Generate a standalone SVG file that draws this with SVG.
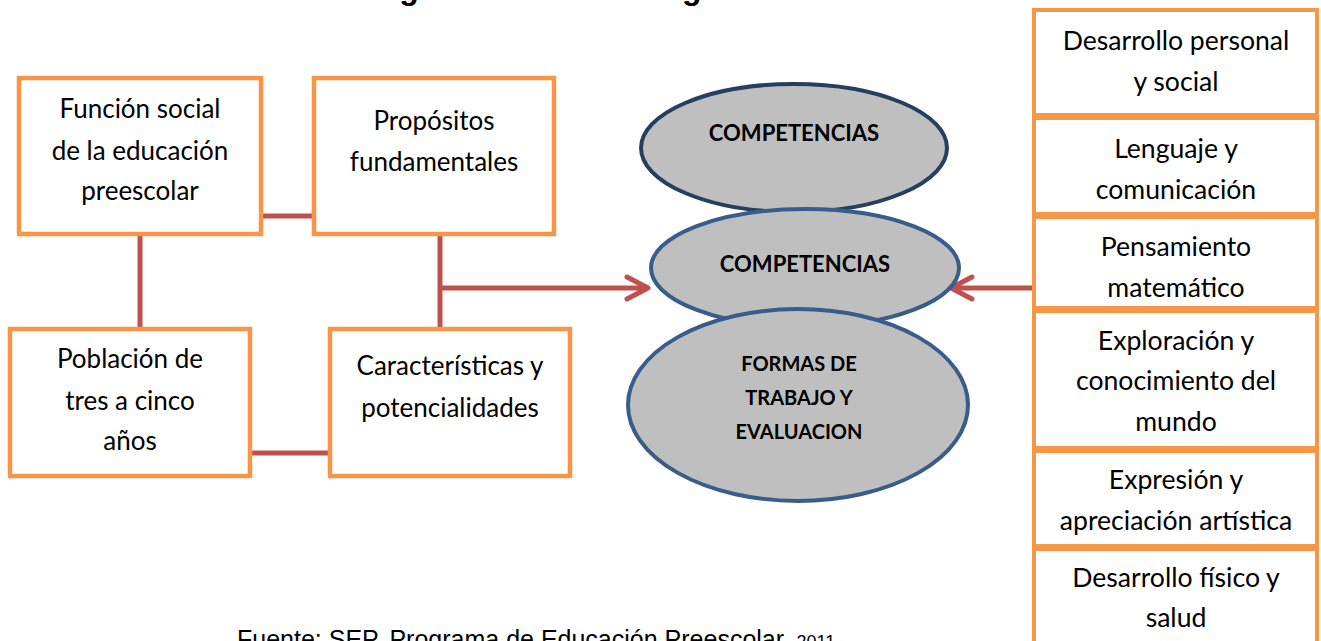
<svg xmlns="http://www.w3.org/2000/svg" width="1321" height="641" viewBox="0 0 1321 641">
<defs>
<style>
.box{fill:#FFFFFF;stroke:#F79646;stroke-width:4.5}
.rbox{fill:#FFFFFF;stroke:#F79646;stroke-width:4}
.t{font-family:Lato,"Open Sans","Liberation Sans",sans-serif;font-size:26px;fill:#000;text-anchor:middle}
.r{font-size:26.6px}
.el{fill:#BFBFBF;stroke-width:4}
.et{font-family:Lato,"Liberation Sans",Arial,sans-serif;font-weight:bold;fill:#000;text-anchor:middle}
.con{stroke:#C0504D;stroke-width:5;fill:none}
.arr{stroke:#C0504D;stroke-width:5;fill:none;stroke-linecap:round;stroke-linejoin:round}
</style>
</defs>
<rect width="1321" height="641" fill="#FFFFFF"/>
<text x="362" y="-1" font-family="'Liberation Sans',Arial,sans-serif" font-weight="bold" font-size="32">Organización del Programa de Preescolar</text>

<g id="connectors">
<line class="con" x1="262" y1="216" x2="313" y2="216"/>
<line class="con" x1="140" y1="236" x2="140" y2="327"/>
<line class="con" x1="440" y1="236" x2="440" y2="327"/>
<line class="con" x1="440" y1="288" x2="648" y2="288"/>
<polyline class="arr" points="627,277 648,288 627,299"/>
<line class="con" x1="252" y1="453" x2="329" y2="453"/>
<line class="con" x1="1034" y1="288" x2="952" y2="288"/>
<polyline class="arr" points="972,277 951,288 972,299"/>
</g>

<g id="n-funcion">
<rect class="box" x="19" y="78" width="242" height="156"/>
<text class="t" x="140" y="118">Función social</text>
<text class="t" x="140" y="160">de la educación</text>
<text class="t" x="140" y="200">preescolar</text>
</g>
<g id="n-propositos">
<rect class="box" x="314" y="78" width="240" height="156"/>
<text class="t" x="434" y="130">Propósitos</text>
<text class="t" x="434" y="171">fundamentales</text>
</g>
<g id="n-poblacion">
<rect class="box" x="10" y="329" width="240" height="147"/>
<text class="t" x="130" y="368">Población de</text>
<text class="t" x="130" y="410">tres a cinco</text>
<text class="t" x="130" y="450">años</text>
</g>
<g id="n-caracteristicas">
<rect class="box" x="330" y="329" width="240" height="147"/>
<text class="t" x="450" y="375">Características y</text>
<text class="t" x="450" y="417">potencialidades</text>
</g>

<g id="n-competencias1">
<ellipse class="el" cx="794" cy="148" rx="153" ry="64" stroke="#243F60"/>
<text class="et" x="794" y="141" font-size="22">COMPETENCIAS</text>
</g>
<g id="n-competencias2">
<ellipse class="el" cx="805" cy="268" rx="154" ry="59" stroke="#385D8A"/>
<text class="et" x="805" y="272" font-size="22">COMPETENCIAS</text>
</g>
<g id="n-formas">
<ellipse class="el" cx="798" cy="405" rx="170" ry="96" stroke="#385D8A"/>
<text class="et" x="799" y="371" font-size="20">FORMAS DE</text>
<text class="et" x="799" y="405" font-size="20">TRABAJO Y</text>
<text class="et" x="799" y="439" font-size="20">EVALUACION</text>
</g>

<g id="n-campo1">
<rect class="rbox" x="1034" y="10" width="283" height="105"/>
<text class="t r" x="1176" y="50">Desarrollo personal</text>
<text class="t r" x="1176" y="91">y social</text>
</g>
<g id="n-campo2">
<rect class="rbox" x="1034" y="118" width="283" height="96"/>
<text class="t r" x="1176" y="158">Lenguaje y</text>
<text class="t r" x="1176" y="199">comunicación</text>
</g>
<g id="n-campo3">
<rect class="rbox" x="1034" y="217" width="283" height="91"/>
<text class="t r" x="1176" y="256">Pensamiento</text>
<text class="t r" x="1176" y="297">matemático</text>
</g>
<g id="n-campo4">
<rect class="rbox" x="1034" y="311" width="283" height="137"/>
<text class="t r" x="1176" y="350">Exploración y</text>
<text class="t r" x="1176" y="390">conocimiento del</text>
<text class="t r" x="1176" y="431">mundo</text>
</g>
<g id="n-campo5">
<rect class="rbox" x="1034" y="451" width="283" height="95"/>
<text class="t r" x="1176" y="489">Expresión y</text>
<text class="t r" x="1176" y="530">apreciación artística</text>
</g>
<g id="n-campo6">
<rect class="rbox" x="1034" y="549" width="283" height="110"/>
<text class="t r" x="1176" y="587">Desarrollo físico y</text>
<text class="t r" x="1176" y="627">salud</text>
</g>

<text x="237" y="648" font-family="'Liberation Sans',Arial,sans-serif" font-size="25">Fuente: SEP, Programa de Educación Preescolar, <tspan font-size="18">2011</tspan></text>
</svg>
